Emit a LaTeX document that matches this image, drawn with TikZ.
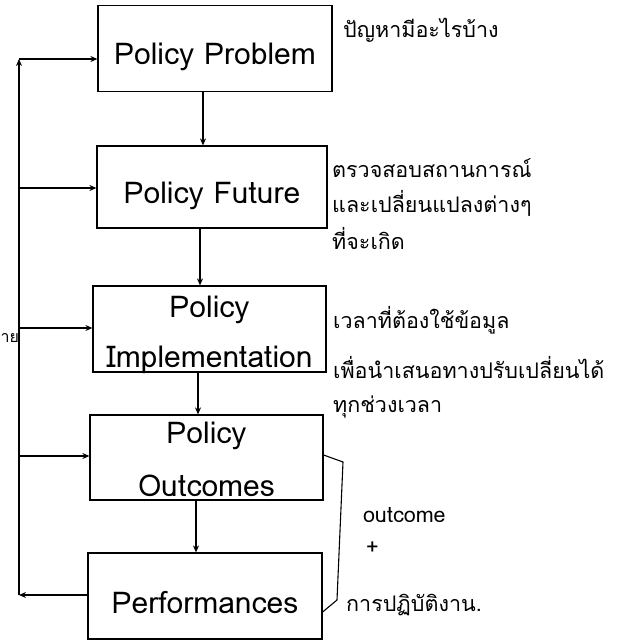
\documentclass[tikz,border=0pt]{standalone}
\usepackage{fontspec}
\setmainfont{Loma}[Script=Thai]
\usetikzlibrary{arrows.meta,calc}
\tikzset{
  box/.style={draw, line width=1.2pt, minimum width=234pt, minimum height=86pt, inner sep=0pt, align=center, font=\fontsize{30}{50}\selectfont},
  arr/.style={line width=1.1pt, -{Stealth[length=7pt,width=6pt]}},
  ln/.style={line width=1.1pt},
  note/.style={anchor=west, inner sep=0pt, font=\fontsize{21.5}{24}\selectfont},
}
\begin{document}
\begin{tikzpicture}[x=1pt,y=-1pt]
\useasboundingbox (0,0) rectangle (635,643);
% boxes
\node[box, text height=31pt, text depth=0pt] (b1) at (215,48.5) {Policy Problem};
\node[box, minimum width=230pt, minimum height=82pt, text height=32pt, text depth=0pt] (b2) at (212,187) {Policy Future};
\node[box, minimum width=233pt, text height=77pt, text depth=0pt] (b3) at (209.5,329) {Policy\\Implementation};
\node[box, minimum width=233pt, minimum height=85pt, text height=78pt, text depth=0pt, font=\fontsize{30}{53}\selectfont] (b4) at (206.5,457.5) {Policy\\Outcomes};
\node[box, text height=34pt, text depth=0pt] (b5) at (205,596) {Performances};
% vertical flow
\draw[arr] ([xshift=-12pt]b1.south) -- ([xshift=-12pt]b1.south |- b2.north);
\draw[arr] ([xshift=-12pt]b2.south) -- ([xshift=-12pt]b2.south |- b3.north);
\draw[arr] ([xshift=-11.5pt]b3.south) -- ([xshift=-11.5pt]b3.south |- b4.north);
\draw[arr] ([xshift=-10.5pt]b4.south) -- ([xshift=-10.5pt]b4.south |- b5.north);
% feedback loop
\coordinate (tl) at (19,59);
\coordinate (bl) at (19,595);
\coordinate (l2) at (19,188);
\coordinate (l3) at (19,328);
\coordinate (l4) at (19,456);
\draw[arr] (b5.west |- bl) -- (bl);
\draw[arr] (bl) -- (tl);
\draw[arr] (tl) -- (b1.west |- tl);
\draw[arr] (l2) -- (b2.west |- l2);
\draw[arr] (l3) -- (b3.west |- l3);
\draw[arr] (l4) -- (b4.west |- l4);
\node[anchor=west, inner sep=0pt, font=\fontsize{16}{18}\selectfont] (lt) at (0.5,338) {าย};
% bracket
\coordinate (k1) at (343,462);
\coordinate (k2) at (337,600);
\draw[ln] (b4.east |- 0,455) -- (k1) -- (k2) -- (b5.east |- 0,612);
% notes
\node[note] (n1) at (343,30) {ปัญหามีอะไรบ้าง};
\node[note] (n2a) at (332,168) {ตรวจสอบสถานการณ์};
\node[note] (n2b) at (332,203) {และเปลี่ยนแปลงต่างๆ};
\node[note] (n2c) at (332,238) {ที่จะเกิด};
\node[note] (n3a) at (333,320) {เวลาที่ต้องใช้ข้อมูล};
\node[note] (n3b) at (333,367) {เพื่อนำเสนอทางปรับเปลี่ยนได้};
\node[note] (n3c) at (333,407) {ทุกช่วงเวลา};
\node[note] (n4a) at (363,515) {outcome};
\node[note] (n4b) at (366,548) {+};
\node[note] (n4c) at (346,605) {การปฏิบัติงาน.};
\end{tikzpicture}
\end{document}
